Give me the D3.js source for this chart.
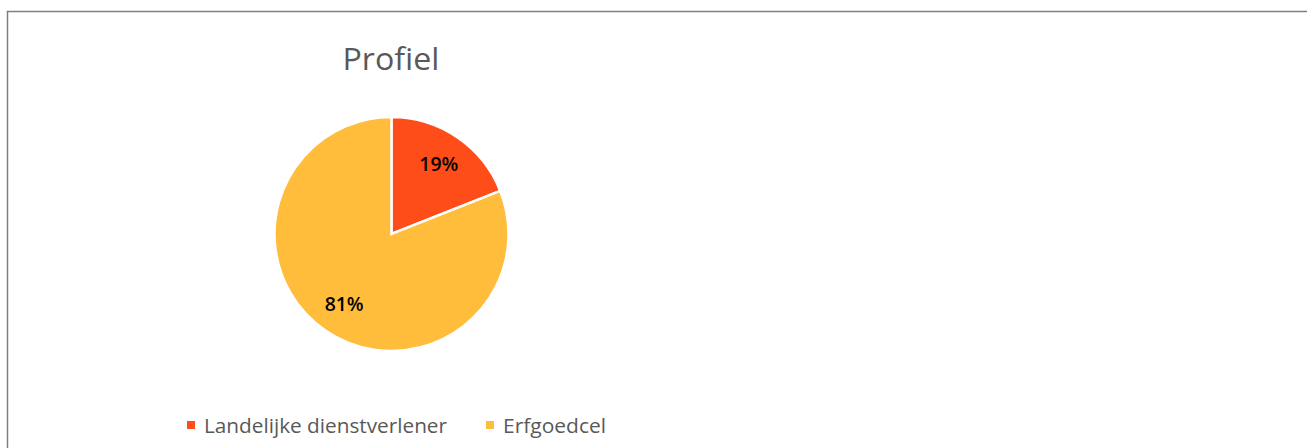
<!DOCTYPE html>
<html><head><meta charset="utf-8">
<script src="https://cdn.jsdelivr.net/npm/d3@7"></script>
<style>body{margin:0;background:#fff}svg{display:block}</style>
</head><body>
<svg id="c" width="1307" height="448"></svg>
<script>
const categories = ["Landelijke dienstverlener", "Erfgoedcel"];
const values = [19, 81];
const labels = ["19%", "81%"];
const colors = ["#FF4D19", "#FFBD3B"];

const svg = d3.select("#c");
// frame
svg.append("path").attr("d","M7.5,448 V11.5 H1307").attr("fill","none").attr("stroke","#7f7f7f").attr("stroke-width",1.5);

svg.append("text").attr("x",391).attr("y",70).attr("text-anchor","middle")
  .attr("font-family","'Open Sans', sans-serif").attr("font-size",31).attr("fill","#595959")
  .attr("textLength",97).attr("lengthAdjust","spacingAndGlyphs").text("Profiel");

const cx = 391.5, cy = 234, r = 117;
const pie = d3.pie().sort(null).value(d=>d);
const arcs = pie(values);
const arc = d3.arc().innerRadius(0).outerRadius(r);
const g = svg.append("g").attr("transform",`translate(${cx},${cy})`);
g.selectAll("path").data(arcs).join("path").attr("d",arc)
  .attr("fill",(d,i)=>colors[i]).attr("stroke","#fff").attr("stroke-width",2.5).attr("stroke-linejoin","miter");
const labelArc = d3.arc().innerRadius(r*0.72).outerRadius(r*0.72);
g.selectAll("text").data(arcs).join("text")
  .attr("transform",(d,i)=>{const c=labelArc.centroid(d);return `translate(${c[0]},${c[1]})`;})
  .attr("text-anchor","middle").attr("dy","0.36em")
  .attr("font-family","'Open Sans', sans-serif").attr("font-size",19).attr("font-weight",600).attr("fill","#000")
  .attr("textLength",39).attr("lengthAdjust","spacingAndGlyphs")
  .text((d,i)=>labels[i]);

const legendX = [187, 486];
const legendW = [243, 103];
const lg = svg.append("g");
categories.forEach((c,i)=>{
  lg.append("rect").attr("x",legendX[i]).attr("y",421).attr("width",8).attr("height",8).attr("fill",colors[i]);
  lg.append("text").attr("x",legendX[i]+17).attr("y",433)
    .attr("font-family","'Open Sans', sans-serif").attr("font-size",20).attr("fill","#595959")
    .attr("textLength",legendW[i]).attr("lengthAdjust","spacingAndGlyphs").text(c);
});
</script>
</body></html>
